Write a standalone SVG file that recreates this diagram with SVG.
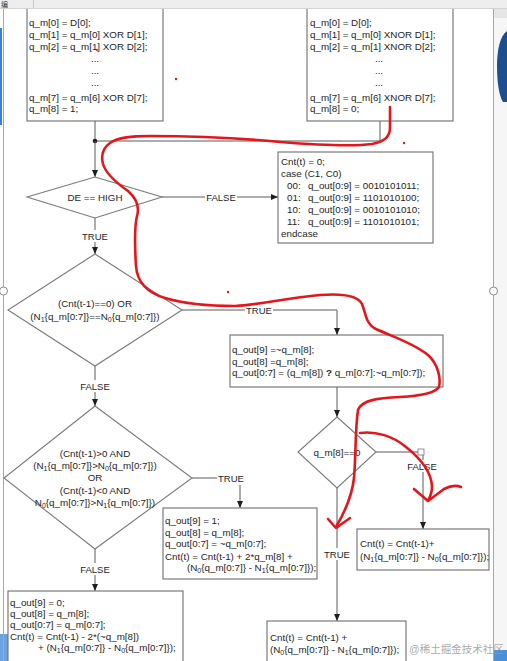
<svg xmlns="http://www.w3.org/2000/svg" width="507" height="661" viewBox="0 0 507 661">
<defs>
<style>
.t{font-family:"Liberation Sans",Arial,sans-serif;font-size:9.8px;fill:#1e1e1e}
.m{text-anchor:middle}
.lb{font-family:"Liberation Sans",Arial,sans-serif;font-size:9.5px;fill:#1e1e1e;text-anchor:middle}
.box{fill:#fff;stroke:#6e6e6e;stroke-width:1.1}
.dia{fill:#fff;stroke:#7a7a7a;stroke-width:1.1}
.ln{fill:none;stroke:#5a5a5a;stroke-width:1}
.sub{font-size:7px}
.red{fill:none;stroke:#e3171b;stroke-width:2.6;stroke-linecap:round;stroke-linejoin:round}
.bg{fill:#fff}
</style>
<marker id="ar" markerWidth="7" markerHeight="6" refX="7" refY="3" orient="auto" markerUnits="userSpaceOnUse">
<path d="M0,0 L7,3 L0,6 z" fill="#1e1e1e"/>
</marker>
</defs>
<rect width="507" height="661" fill="#fff"/>
<!-- window frame -->
<g id="frame">
<rect x="493" y="0" width="14" height="661" fill="#f6f6f6"/>
<rect x="493" y="8" width="14" height="10" fill="#e6e6e6"/>
<path d="M507,31 C500,36 497,50 497,66 C497,82 499,96 503,102 L507,102 Z" fill="#1d4f8f"/>
<rect x="493" y="650" width="14" height="11" fill="#4a8fd8"/>
<rect x="0" y="634" width="8" height="27" fill="#6aa3de"/>
<rect x="0" y="28" width="2" height="97" fill="#3d7fd6"/>
<line x1="3.5" y1="9" x2="3.5" y2="661" stroke="#a8a8a8"/>
<line x1="493.5" y1="9" x2="493.5" y2="661" stroke="#a8a8a8"/>
<circle cx="3.5" cy="291" r="4" fill="#fff" stroke="#8a8a8a"/>
<circle cx="493.5" cy="291" r="4" fill="#fff" stroke="#8a8a8a"/>
</g>
<!-- connectors -->
<g id="connectors">
<path class="ln" d="M95,121 V141"/>
<path class="ln" d="M380,121 V141 H95"/>
<circle cx="95" cy="141" r="2.3" fill="#1e1e1e"/>
<path class="ln" d="M95,141 V177" marker-end="url(#ar)"/>
<path class="ln" d="M162,197 H278" marker-end="url(#ar)"/>
<path class="ln" d="M95,218 V254" marker-end="url(#ar)"/>
<path class="ln" d="M182,310 H337 V335" marker-end="url(#ar)"/>
<path class="ln" d="M95,366 V406" marker-end="url(#ar)"/>
<path class="ln" d="M337,387 V417" marker-end="url(#ar)"/>
<path class="ln" d="M192,478 H240 V508" marker-end="url(#ar)"/>
<path class="ln" d="M95,549 V591" marker-end="url(#ar)"/>
<path class="ln" d="M376,452 H423 V529" marker-end="url(#ar)"/>
<rect x="418" y="449" width="6" height="6" fill="#fff" stroke="#777" stroke-width="0.8"/>
<path class="ln" d="M337,488 V621" marker-end="url(#ar)"/>
<rect class="bg" x="205" y="192" width="32" height="11"/>
<text class="lb" x="221" y="200.5">FALSE</text>
<rect class="bg" x="81" y="230" width="28" height="12"/>
<text class="lb" x="95" y="239.5">TRUE</text>
<rect class="bg" x="245" y="305" width="28" height="11"/>
<text class="lb" x="259" y="313.5">TRUE</text>
<rect class="bg" x="79" y="380" width="32" height="12"/>
<text class="lb" x="95" y="389.5">FALSE</text>
<rect class="bg" x="217" y="473" width="28" height="12"/>
<text class="lb" x="231" y="481.5">TRUE</text>
<rect class="bg" x="79" y="563" width="32" height="12"/>
<text class="lb" x="95" y="572.5">FALSE</text>
<rect class="bg" x="406" y="460" width="32" height="12"/>
<text class="lb" x="422" y="469.5">FALSE</text>
<rect class="bg" x="323" y="548" width="28" height="12"/>
<text class="lb" x="337" y="557.5">TRUE</text>
</g>
<!-- nodes -->
<g id="xor_box">
<rect class="box" x="27" y="-2" width="136" height="123"/>
<text class="t" x="29" y="25.5">q_m[0] = D[0];</text>
<text class="t" x="29" y="38">q_m[1] = q_m[0] XOR D[1];</text>
<text class="t" x="29" y="49.5">q_m[2] = q_m[1] XOR D[2];</text>
<text class="t m" x="95" y="62">...</text>
<text class="t m" x="95" y="74">...</text>
<text class="t m" x="95" y="86">...</text>
<text class="t" x="29" y="100.5">q_m[7] = q_m[6] XOR D[7];</text>
<text class="t" x="29" y="112">q_m[8] = 1;</text>
</g>
<g id="xnor_box">
<rect class="box" x="307" y="-2" width="146" height="123"/>
<text class="t" x="310" y="25.5">q_m[0] = D[0];</text>
<text class="t" x="310" y="38">q_m[1] = q_m[0] XNOR D[1];</text>
<text class="t" x="310" y="49.5">q_m[2] = q_m[1] XNOR D[2];</text>
<text class="t m" x="379" y="62">...</text>
<text class="t m" x="379" y="74">...</text>
<text class="t m" x="379" y="86">...</text>
<text class="t" x="310" y="100.5">q_m[7] = q_m[6] XNOR D[7];</text>
<text class="t" x="310" y="112">q_m[8] = 0;</text>
</g>
<g id="de_high">
<polygon class="dia" points="95,177 162,197 95,218 27,197"/>
<text class="t m" x="95" y="200.5">DE == HIGH</text>
</g>
<g id="ctrl_box">
<rect class="box" x="278" y="152" width="155" height="91"/>
<text class="t" x="281" y="164.5">Cnt(t) = 0;</text>
<text class="t" x="281" y="176.5">case (C1, C0)</text>
<text class="t" y="188.5"><tspan x="287">00:</tspan><tspan x="308">q_out[0:9] = 0010101011;</tspan></text>
<text class="t" y="200.5"><tspan x="287">01:</tspan><tspan x="308">q_out[0:9] = 1101010100;</tspan></text>
<text class="t" y="212.5"><tspan x="287">10:</tspan><tspan x="308">q_out[0:9] = 0010101010;</tspan></text>
<text class="t" y="224.5"><tspan x="287">11:</tspan><tspan x="308">q_out[0:9] = 1101010101;</tspan></text>
<text class="t" x="281" y="236.5">endcase</text>
</g>
<g id="balance_check">
<polygon class="dia" points="95,254 182,310 95,366 8,310"/>
<text class="t m" x="95" y="306.5">(Cnt(t-1)==0) OR</text>
<text class="t m" x="95" y="319.5">(N<tspan class="sub" dy="2">1</tspan><tspan dy="-2">{q_m[0:7]}==N</tspan><tspan class="sub" dy="2">0</tspan><tspan dy="-2">{q_m[0:7]})</tspan></text>
</g>
<g id="qout_box">
<rect class="box" x="230" y="335" width="213" height="52"/>
<text class="t" x="232" y="352.5">q_out[9] =~q_m[8];</text>
<text class="t" x="232" y="364.5">q_out[8] =q_m[8];</text>
<text class="t" x="232" y="375.5">q_out[0:7] = (q_m[8]) <tspan font-weight="bold">?</tspan> q_m[0:7]:~q_m[0:7]);</text>
</g>
<g id="disparity_check">
<polygon class="dia" points="95,406 192,478 95,549 4,478"/>
<text class="t m" x="95" y="456.5">(Cnt(t-1)&gt;0 AND</text>
<text class="t m" x="95" y="468.5">(N<tspan class="sub" dy="2">1</tspan><tspan dy="-2">{q_m[0:7]}&gt;N</tspan><tspan class="sub" dy="2">0</tspan><tspan dy="-2">{q_m[0:7]})</tspan></text>
<text class="t m" x="95" y="480.5">OR</text>
<text class="t m" x="95" y="493.5">(Cnt(t-1)&lt;0 AND</text>
<text class="t m" x="95" y="505.5">N<tspan class="sub" dy="2">0</tspan><tspan dy="-2">{q_m[0:7]}&gt;N</tspan><tspan class="sub" dy="2">1</tspan><tspan dy="-2">{q_m[0:7]})</tspan></text>
</g>
<g id="invert_box">
<rect class="box" x="163" y="508" width="154" height="71"/>
<text class="t" x="165" y="523.5">q_out[9] = 1;</text>
<text class="t" x="165" y="535.5">q_out[8] = q_m[8];</text>
<text class="t" x="165" y="546.5">q_out[0:7] = ~q_m[0:7];</text>
<text class="t" x="165" y="559.5">Cnt(t) = Cnt(t-1) + 2*q_m[8] +</text>
<text class="t" x="187" y="570.5">(N<tspan class="sub" dy="2">0</tspan><tspan dy="-2">{q_m[0:7]} - N</tspan><tspan class="sub" dy="2">1</tspan><tspan dy="-2">{q_m[0:7]});</tspan></text>
</g>
<g id="noinvert_box">
<rect class="box" x="8" y="591" width="175" height="80"/>
<text class="t" x="10" y="605.5">q_out[9] = 0;</text>
<text class="t" x="10" y="617">q_out[8] = q_m[8];</text>
<text class="t" x="10" y="628">q_out[0:7] = q_m[0:7];</text>
<text class="t" x="10" y="639.5">Cnt(t) = Cnt(t-1) - 2*(~q_m[8])</text>
<text class="t" x="38" y="651">+ (N<tspan class="sub" dy="2">1</tspan><tspan dy="-2">{q_m[0:7]} - N</tspan><tspan class="sub" dy="2">0</tspan><tspan dy="-2">{q_m[0:7]});</tspan></text>
</g>
<g id="qm8_check">
<polygon class="dia" points="337,417 376,452 337,488 298,452"/>
<text class="t m" x="337" y="455.5">q_m[8]==0</text>
</g>
<g id="cnt_false_box">
<rect class="box" x="357" y="529" width="132" height="41"/>
<text class="t" x="360" y="546.5">Cnt(t) = Cnt(t-1)+</text>
<text class="t" x="360" y="559.5">(N<tspan class="sub" dy="2">1</tspan><tspan dy="-2">{q_m[0:7]} - N</tspan><tspan class="sub" dy="2">0</tspan><tspan dy="-2">{q_m[0:7]});</tspan></text>
</g>
<g id="cnt_true_box">
<rect class="box" x="267" y="621" width="139" height="50"/>
<text class="t" x="270" y="640.5">Cnt(t) = Cnt(t-1) +</text>
<text class="t" x="270" y="652.5">(N<tspan class="sub" dy="2">0</tspan><tspan dy="-2">{q_m[0:7]} - N</tspan><tspan class="sub" dy="2">1</tspan><tspan dy="-2">{q_m[0:7]});</tspan></text>
</g>
<!-- red hand annotations -->
<g id="annotations">
<path class="red" d="M390,107 L390,128 C390,137 384,142 372,144 C350,147 318,145 280,142 C240,138 200,136 150,136 C132,136 118,137 110,143 C103,148 101,156 103,164 C106,174 118,184 128,191 C136,198 140,206 137,216 C134,228 135,250 136,266 C137,280 145,292 165,298 C185,304 210,306 235,306 C260,305 285,298 320,295 C345,293 358,296 362,304 C366,314 366,323 374,328 C390,336 412,342 428,355 C438,364 441,378 439,387 C435,393 420,396 400,397 C378,398 362,400 358,410 C355,430 356,455 354,478 C352,496 346,510 336,527"/>
<path class="red" d="M328,519 L336,528 L350,518"/>
<path class="red" d="M360,433 C376,431 393,436 406,447 C420,458 431,472 432,486 C432,492 431,496 428,500"/>
<path class="red" d="M414,489 L428,501 L444,489 C450,486 456,485 461,487"/>
<circle cx="176" cy="79" r="1.2" fill="#e3171b"/>
<circle cx="97" cy="50" r="1" fill="#e3171b"/>
<circle cx="404" cy="143" r="1.2" fill="#e3171b"/>
<circle cx="228" cy="292" r="1.2" fill="#e3171b"/>
</g>
<!-- top toolbar strip -->
<g id="toolbar">
<rect x="0" y="0" width="507" height="8" fill="#eeeeee"/>
<line x1="0" y1="8.5" x2="507" y2="8.5" stroke="#d4d4d4"/>
<line x1="33.5" y1="0" x2="33.5" y2="8" stroke="#c8c8c8"/>
<text x="1" y="7" font-family="'Noto Sans CJK SC',sans-serif" font-size="7" fill="#333">编</text>
</g>
<text x="409" y="653" font-family="'Liberation Sans','Noto Sans CJK SC',sans-serif" font-size="10.5" fill="#9a9a9a" fill-opacity="0.85">@稀土掘金技术社区</text>
</svg>
